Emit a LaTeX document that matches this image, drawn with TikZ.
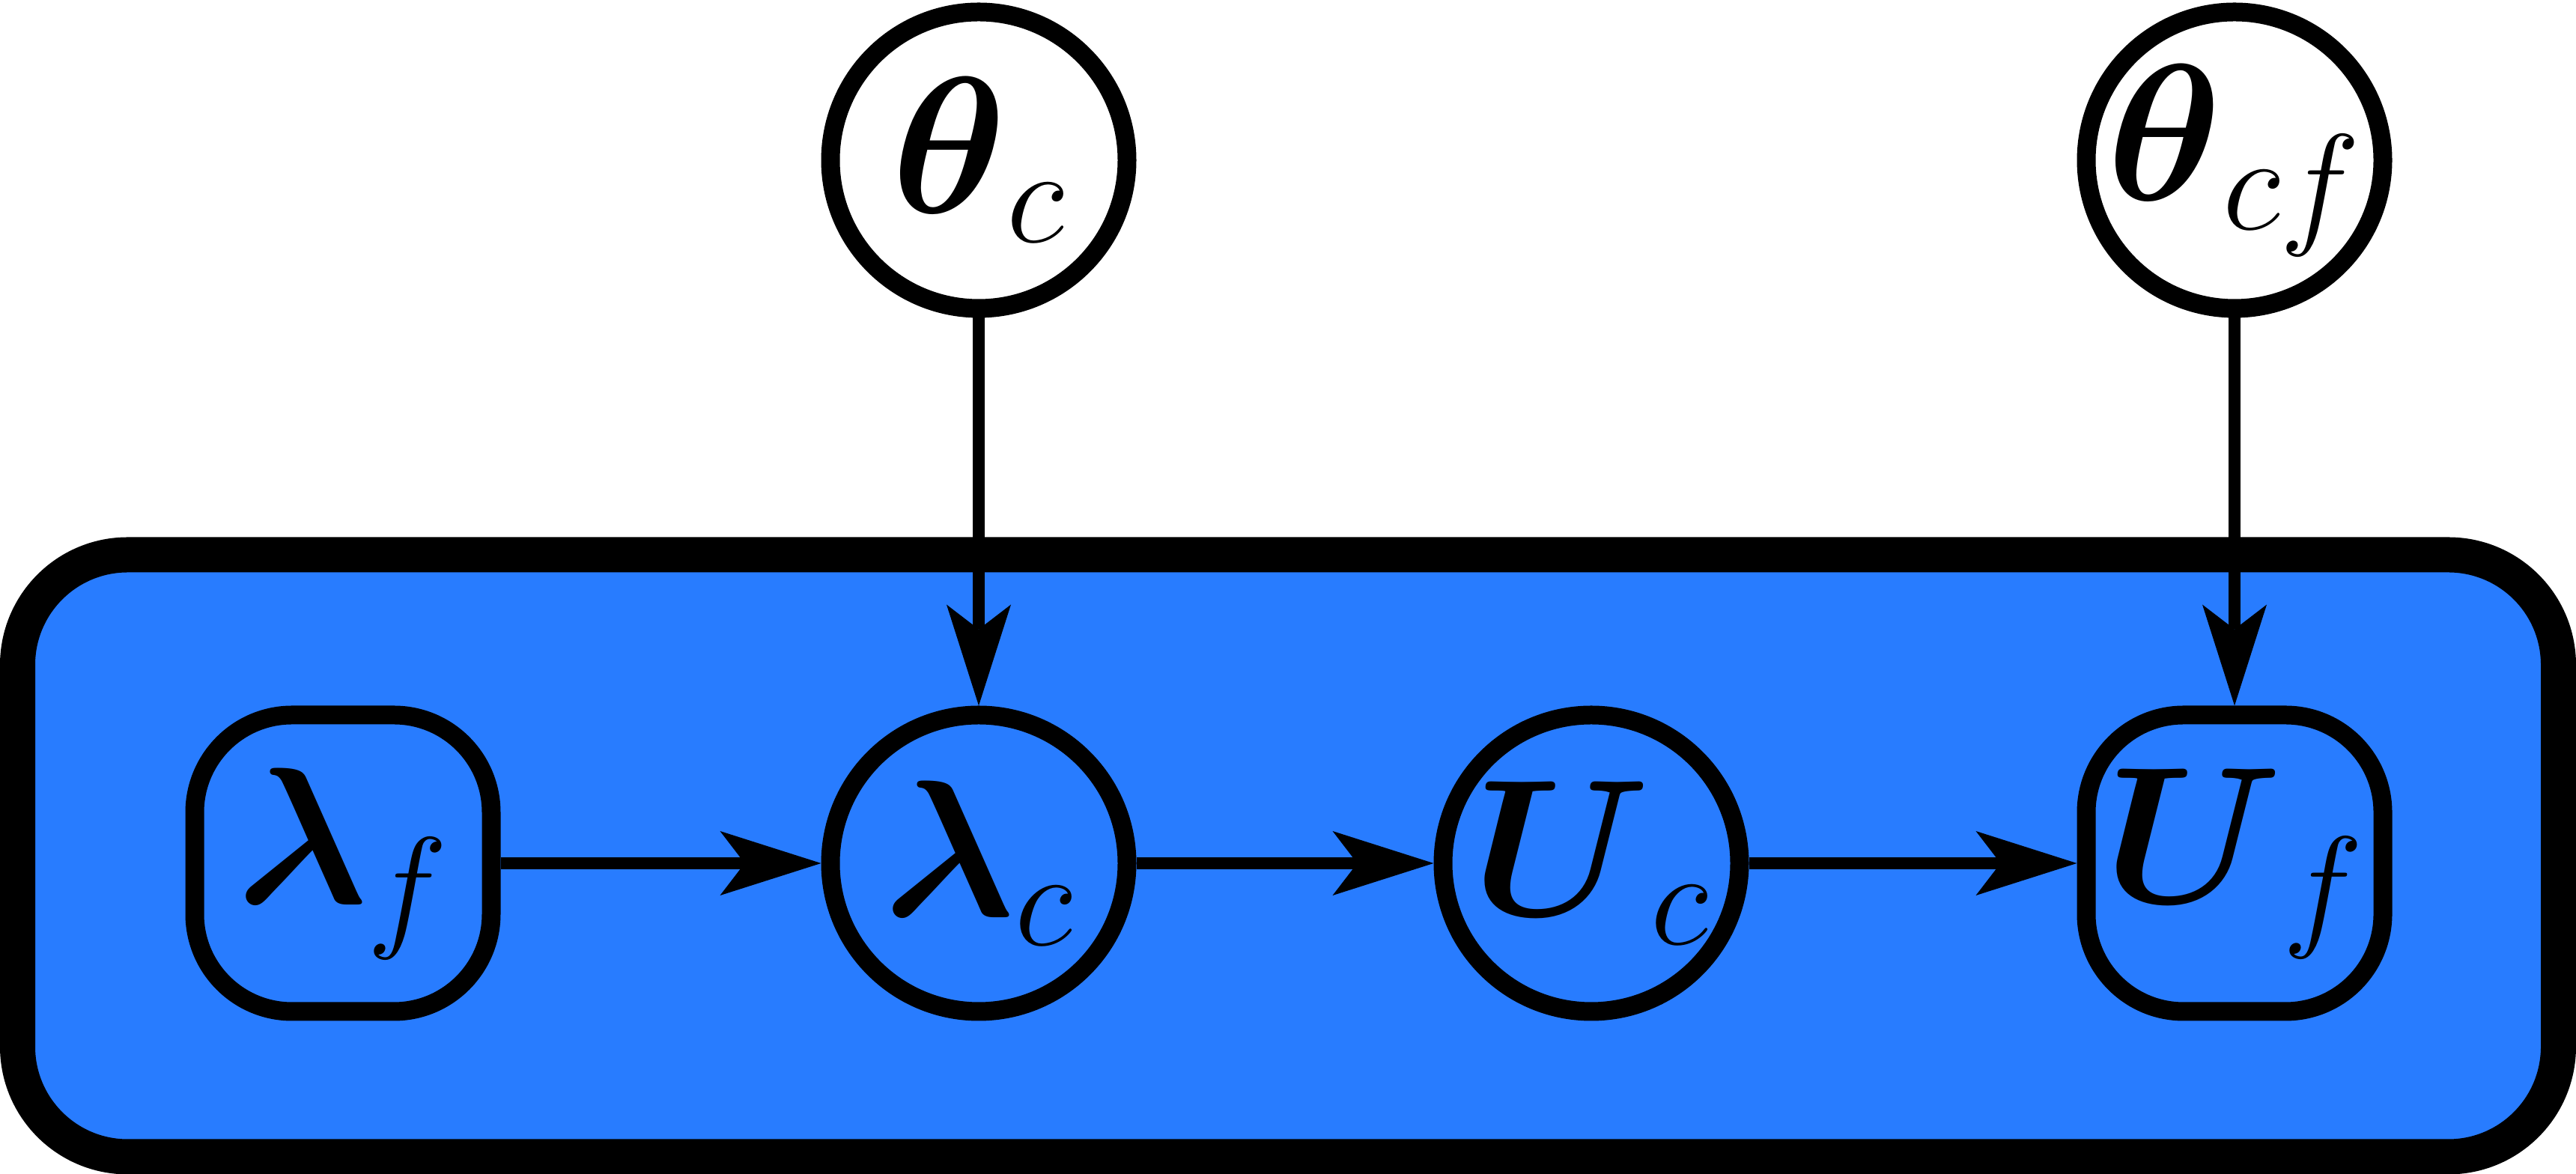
\RequirePackage{fix-cm}
\documentclass[tikz,border=0pt]{standalone}
\usepackage{amsmath,amssymb}
\usepackage{xcolor}
\usepackage{tikz}
\usetikzlibrary{arrows.meta,positioning}
\definecolor{pfill}{HTML}{287CFF}

\begin{document}
\begin{tikzpicture}[
  font=\fontsize{74}{88}\selectfont,
  rv/.style={draw,circle,line width=2.5mm,minimum size=39.6mm,inner sep=-4mm},
  fx/.style={draw,rectangle,rounded corners=13mm,line width=2.5mm,
             minimum size=39.6mm,inner sep=0pt},
  pl/.style={draw,fill=pfill,line width=4.7mm,rounded corners=14.7mm},
  a/.style={-{Stealth[length=13.5mm,width=8.6mm,inset=3.3mm,line width=0pt]},
            line width=1.6mm}
]
\useasboundingbox (0,0) rectangle (34.4,15.68);
% plate
\draw[pl] (0.235,0.23) rectangle (34.165,8.27);

\node[fx] (lf) at (4.58,4.15) {$\boldsymbol{\lambda}_{f}$};
\node[rv,right=4.28cm of lf] (lc) {$\boldsymbol{\lambda}_{c}$};
\node[rv,right=3.97cm of lc] (uc) {$\boldsymbol{U}_{c}$};
\node[fx,right=4.38cm of uc] (uf) {$\boldsymbol{U}_{f}$};

\node[rv,fill=white,above=5.18cm of lc] (tc) {$\boldsymbol{\theta}_{c}$};
\node[rv,fill=white,above=5.18cm of uf] (tcf) {$\boldsymbol{\theta}_{cf}$};

\foreach \a/\b in {lf/lc, lc/uc, uc/uf, tc/lc, tcf/uf}
  {\draw[a] (\a) -- (\b);}
\end{tikzpicture}
\end{document}
